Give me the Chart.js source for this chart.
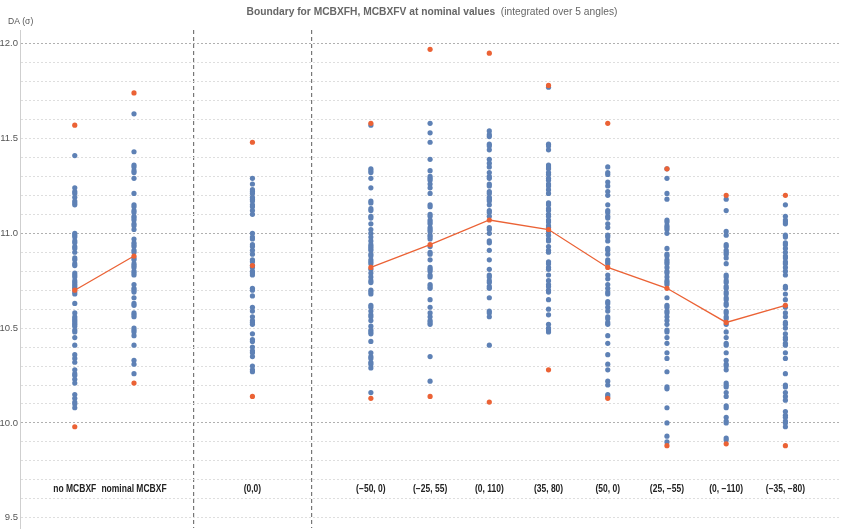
<!DOCTYPE html>
<html>
<head>
<meta charset="utf-8">
<script src="https://cdn.jsdelivr.net/npm/chart.js@4.4.1/dist/chart.umd.min.js"></script>
<style>
  html, body { margin: 0; padding: 0; background: #fff; }
  #wrap { width: 843px; height: 532px; }
</style>
</head>
<body>
<div id="wrap"><canvas id="daChart" width="843" height="532"></canvas></div>
<script>
// Categories and where they sit on the x axis (gaps at 3 and 5 hold the separators)
const categories = ['no MCBXF', 'nominal MCBXF', '(0,0)', '(\u221250, 0)', '(\u221225, 55)', '(0, 110)',
    '(35, 80)', '(50, 0)', '(25, \u221255)', '(0, \u2212110)', '(\u221235, \u221280)'];
const xPos = [1, 2, 4, 6, 7, 8, 9, 10, 11, 12, 13];
const separators = [3, 5];
const yTicks = [9.5, 10.0, 10.5, 11.0, 11.5, 12.0];

// Orange markers: max, min and mean per category
const orangeMax = [11.57, 11.74, 11.48, 11.58, 11.97, 11.95, 11.78, 11.58, 11.34, 11.20, 11.20];
const orangeMin = [9.98, 10.21, 10.14, 10.13, 10.14, 10.11, 10.28, 10.13, 9.88, 9.89, 9.88];
const orangeMean = [10.70, 10.88, 10.83, 10.82, 10.94, 11.07, 11.02, 10.82, 10.71, 10.53, 10.62];

// Blue DA values per angle/seed
const daNoMcbxf = [11.41, 11.24, 11.22, 11.21, 11.19, 11.17, 11.16, 11.15, 11.00, 10.99, 10.98, 10.96, 10.95, 10.93,
    10.92, 10.90, 10.87, 10.86, 10.84, 10.83, 10.79, 10.78, 10.77, 10.75, 10.74, 10.73, 10.72, 10.71, 10.69, 10.68,
    10.63, 10.58, 10.56, 10.55, 10.54, 10.53, 10.52, 10.51, 10.49, 10.48, 10.45, 10.41, 10.36, 10.34, 10.32, 10.28,
    10.26, 10.25, 10.23, 10.21, 10.15, 10.13, 10.11, 10.10, 10.08];
const daNominal = [11.63, 11.43, 11.36, 11.35, 11.33, 11.32, 11.29, 11.21, 11.15, 11.14, 11.12, 11.11, 11.09, 11.08,
    11.07, 11.05, 11.04, 11.02, 10.97, 10.95, 10.94, 10.93, 10.91, 10.90, 10.87, 10.86, 10.84, 10.83, 10.82, 10.80,
    10.79, 10.78, 10.73, 10.71, 10.70, 10.69, 10.66, 10.63, 10.62, 10.58, 10.57, 10.56, 10.50, 10.49, 10.48, 10.46,
    10.41, 10.33, 10.31, 10.26];
const da00 = [11.29, 11.26, 11.23, 11.22, 11.21, 11.19, 11.18, 11.17, 11.15, 11.14, 11.12, 11.10, 11.00, 10.98, 10.97,
    10.94, 10.93, 10.91, 10.89, 10.86, 10.85, 10.83, 10.82, 10.80, 10.79, 10.78, 10.71, 10.70, 10.67, 10.61, 10.59,
    10.56, 10.54, 10.53, 10.52, 10.47, 10.44, 10.43, 10.40, 10.38, 10.37, 10.35, 10.30, 10.28, 10.27];
const daM50_0 = [11.57, 11.34, 11.33, 11.32, 11.29, 11.24, 11.17, 11.16, 11.13, 11.12, 11.09, 11.08, 11.05, 11.02,
    11.00, 10.98, 10.96, 10.94, 10.93, 10.92, 10.91, 10.89, 10.88, 10.86, 10.85, 10.84, 10.81, 10.79, 10.77, 10.75,
    10.74, 10.70, 10.69, 10.68, 10.62, 10.61, 10.59, 10.57, 10.56, 10.54, 10.51, 10.49, 10.48, 10.47, 10.43, 10.37,
    10.35, 10.34, 10.32, 10.31, 10.29, 10.16];
const daM25_55 = [11.58, 11.53, 11.48, 11.39, 11.33, 11.30, 11.29, 11.28, 11.26, 11.24, 11.21, 11.15, 11.14, 11.10,
    11.09, 11.07, 11.06, 11.05, 11.03, 11.02, 11.01, 10.99, 10.98, 10.97, 10.93, 10.90, 10.89, 10.86, 10.82, 10.81,
    10.80, 10.78, 10.77, 10.73, 10.72, 10.71, 10.65, 10.61, 10.58, 10.56, 10.54, 10.53, 10.52, 10.35, 10.22];
const da0_110 = [11.54, 11.52, 11.51, 11.47, 11.46, 11.44, 11.39, 11.37, 11.35, 11.32, 11.30, 11.29, 11.26, 11.25,
    11.22, 11.21, 11.19, 11.18, 11.17, 11.15, 11.12, 11.11, 11.09, 11.03, 11.02, 11.00, 10.96, 10.95, 10.91, 10.86,
    10.81, 10.78, 10.77, 10.75, 10.74, 10.72, 10.71, 10.66, 10.59, 10.58, 10.56, 10.41];
const da35_80 = [11.77, 11.47, 11.46, 11.44, 11.36, 11.35, 11.34, 11.32, 11.31, 11.29, 11.28, 11.26, 11.25, 11.23,
    11.21, 11.16, 11.15, 11.13, 11.12, 11.10, 11.09, 11.07, 11.06, 11.04, 11.03, 11.01, 10.99, 10.97, 10.96, 10.93,
    10.91, 10.90, 10.85, 10.84, 10.82, 10.81, 10.78, 10.75, 10.73, 10.72, 10.70, 10.69, 10.65, 10.60, 10.57, 10.52,
    10.50, 10.49, 10.48];
const da50_0 = [11.35, 11.32, 11.31, 11.27, 11.25, 11.22, 11.20, 11.15, 11.12, 11.11, 11.09, 11.08, 11.05, 11.03,
    10.99, 10.98, 10.96, 10.92, 10.91, 10.89, 10.86, 10.85, 10.84, 10.78, 10.76, 10.73, 10.71, 10.69, 10.68, 10.64,
    10.63, 10.61, 10.59, 10.56, 10.55, 10.53, 10.52, 10.46, 10.42, 10.36, 10.31, 10.28, 10.22, 10.20, 10.15, 10.14];
const da25_m55 = [11.34, 11.29, 11.21, 11.18, 11.07, 11.06, 11.04, 11.03, 11.02, 11.00, 10.92, 10.89, 10.88, 10.86,
    10.85, 10.84, 10.82, 10.80, 10.79, 10.77, 10.75, 10.74, 10.73, 10.66, 10.62, 10.61, 10.59, 10.58, 10.56, 10.54,
    10.52, 10.49, 10.48, 10.45, 10.42, 10.37, 10.34, 10.27, 10.19, 10.18, 10.08, 10.00, 9.93, 9.90];
const da0_m110 = [11.18, 11.12, 11.01, 10.99, 10.94, 10.93, 10.91, 10.90, 10.89, 10.87, 10.84, 10.78, 10.77, 10.75,
    10.74, 10.72, 10.71, 10.69, 10.68, 10.66, 10.65, 10.63, 10.62, 10.59, 10.58, 10.56, 10.55, 10.52, 10.48, 10.45,
    10.42, 10.41, 10.37, 10.33, 10.31, 10.30, 10.28, 10.21, 10.20, 10.19, 10.16, 10.14, 10.09, 10.08, 10.03, 10.01,
    10.00, 9.92, 9.91];
const daM35_m80 = [11.15, 11.09, 11.07, 11.06, 11.05, 10.99, 10.98, 10.95, 10.94, 10.92, 10.90, 10.88, 10.87, 10.85,
    10.84, 10.82, 10.80, 10.78, 10.72, 10.71, 10.68, 10.65, 10.61, 10.58, 10.56, 10.53, 10.52, 10.50, 10.47, 10.45,
    10.44, 10.42, 10.41, 10.37, 10.34, 10.26, 10.20, 10.19, 10.16, 10.14, 10.12, 10.06, 10.04, 10.03, 10.01, 10.00,
    9.98];

const blueValues = [daNoMcbxf, daNominal, da00, daM50_0, daM25_55, da0_110, da35_80, da50_0, da25_m55, da0_m110, daM35_m80];

const blue = '#5e81b5';
const orange = '#eb6235';

// Build point lists
const bluePoints = [];
blueValues.forEach((vals, i) => vals.forEach(v => bluePoints.push({ x: xPos[i], y: v })));

const orangePoints = [];
xPos.forEach((x, i) => {
    orangePoints.push({ x: x, y: orangeMax[i] });
    orangePoints.push({ x: x, y: orangeMin[i] });
    orangePoints.push({ x: x, y: orangeMean[i] });
});

// Mean line: (0,0) is not connected to its neighbours
const meanLine = xPos.map((x, i) => ({ x: x, y: categories[i] === '(0,0)' ? null : orangeMean[i] }));

// draw text squeezed horizontally (the reference uses a narrow font)
function squeezedText(ctx, text, x, y, sx) {
    ctx.save();
    ctx.translate(x, y);
    ctx.scale(sx, 1);
    ctx.fillText(text, 0, 0);
    ctx.restore();
}

// Title, axis label and category labels
const textPlugin = {
    id: 'texts',
    afterDraw(chart) {
        const ctx = chart.ctx;
        const xs = chart.scales.x;
        const ys = chart.scales.y;
        ctx.save();
        ctx.textBaseline = 'middle';

        // title: bold part + plain part, centred as a whole
        const sx = 0.89;
        const boldText = 'Boundary for MCBXFH, MCBXFV at nominal values';
        const plainText = '  (integrated over 5 angles)';
        const boldFont = 'bold 11.5px "Liberation Sans", Arial, sans-serif';
        const plainFont = '11.5px "Liberation Sans", Arial, sans-serif';
        ctx.font = boldFont;
        const wBold = ctx.measureText(boldText).width * sx;
        ctx.font = plainFont;
        const wPlain = ctx.measureText(plainText).width * sx;
        const tx = 432 - (wBold + wPlain) / 2;
        ctx.fillStyle = '#666';
        ctx.textAlign = 'left';
        ctx.font = boldFont;
        squeezedText(ctx, boldText, tx, 12, sx);
        ctx.font = plainFont;
        squeezedText(ctx, plainText, tx + wBold, 12, sx);

        // y axis label
        ctx.fillStyle = '#555';
        ctx.font = '9px "Liberation Sans", Arial, sans-serif';
        squeezedText(ctx, 'DA (\u03c3)', 8, 22, 0.95);

        // category labels
        ctx.fillStyle = '#222';
        ctx.textAlign = 'center';
        ctx.font = 'bold 10px "Liberation Sans", Arial, sans-serif';
        categories.forEach((c, i) => {
            squeezedText(ctx, c, xs.getPixelForValue(xPos[i]), ys.getPixelForValue(9.65), 0.85);
        });
        ctx.restore();
    }
};

const ctx = document.getElementById('daChart').getContext('2d');
const daChart = new Chart(ctx, {
    type: 'scatter',
    data: {
        datasets: [
            {
                type: 'line',
                label: 'mean',
                data: meanLine,
                borderColor: orange,
                borderWidth: 1.3,
                pointRadius: 0,
                spanGaps: false,
                tension: 0,
                order: 0
            },
            {
                label: 'extremes and mean',
                data: orangePoints,
                backgroundColor: orange,
                borderWidth: 0,
                pointRadius: 2.6,
                order: 1
            },
            {
                label: 'DA',
                data: bluePoints,
                backgroundColor: blue,
                borderWidth: 0,
                pointRadius: 2.6,
                order: 2
            }
        ]
    },
    options: {
        responsive: false,
        animation: false,
        layout: { padding: { top: 30, left: 0, right: 0, bottom: 0 } },
        plugins: {
            legend: { display: false },
            tooltip: { enabled: false }
        },
        scales: {
            x: {
                type: 'linear',
                min: 0.075,
                max: 13.905,
                afterFit: s => { s.height = 0; },
                ticks: { display: false, stepSize: 1 },
                border: { display: false, dash: [4, 3] },
                grid: {
                    drawTicks: false,
                    lineWidth: 1.2,
                    color: c => separators.includes(c.tick.value) ? '#777' : 'rgba(0,0,0,0)'
                }
            },
            y: {
                min: 9.446,
                max: 12.072,
                afterFit: s => { s.width = 20; s.paddingTop = 0; s.paddingBottom = 0; },
                border: { display: true, color: '#cfcfcf', dash: [2, 2] },
                ticks: {
                    stepSize: 0.1,
                    includeBounds: false,
                    padding: 2,
                    color: '#555',
                    font: { size: 9.5, family: '"Liberation Sans", Arial, sans-serif' },
                    callback: v => {
                        const r = Math.round(v * 2) / 2;
                        return Math.abs(v - r) < 1e-6 && yTicks.includes(r) ? r.toFixed(1) : '';
                    }
                },
                grid: {
                    drawTicks: false,
                    lineWidth: 1,
                    color: c => {
                        const v = c.tick.value;
                        if (Math.abs(v - Math.round(v)) < 1e-6) return '#b0b0b0';
                        if (Math.abs(v * 10 - Math.round(v * 10)) < 1e-6) return '#dedede';
                        return 'rgba(0,0,0,0)';
                    }
                }
            }
        }
    },
    plugins: [textPlugin]
});
</script>
</body>
</html>
